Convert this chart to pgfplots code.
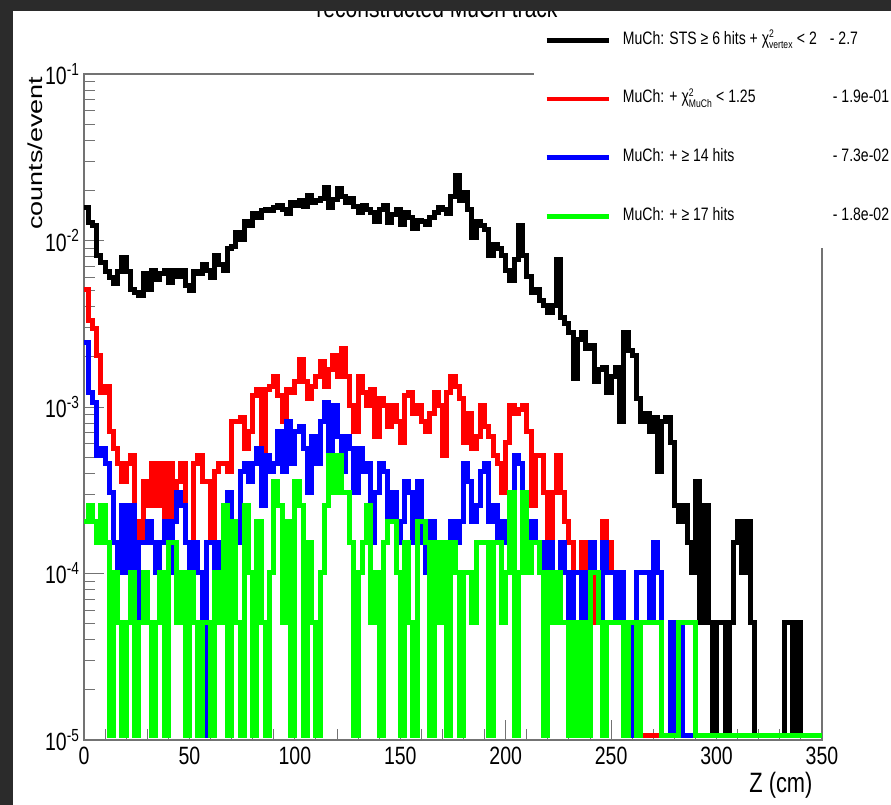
\documentclass[border=0pt]{standalone}
\usepackage{fontspec}
\setmainfont{Liberation Sans}[FakeStretch=0.78]
\newfontfamily\ylfont{Liberation Sans}
\usepackage{graphicx}
\usepackage{pgfplots}
\usepackage{pgfplotstable}
\pgfplotsset{compat=1.18}
\definecolor{rootred}{RGB}{255,0,0}
\definecolor{rootblue}{RGB}{0,0,255}
\definecolor{rootgreen}{RGB}{0,255,0}
\definecolor{darkbg}{RGB}{43,43,43}
\newcommand{\ssub}[1]{\hbox{\fontsize{11}{11}\selectfont #1}}

% counts per 2 cm bin (1 count = 5.1e-5 counts/event)
\pgfplotstableread[row sep=\\]{
x n\\
0 309\\ 2 250\\ 4 240\\ 6 160\\ 8 145\\ 10 128\\ 12 118\\ 14 108\\ 16 128\\ 18 155\\
20 128\\ 22 100\\ 24 95\\ 26 92\\ 28 125\\ 30 100\\ 32 130\\ 34 115\\ 36 125\\ 38 130\\
40 110\\ 42 130\\ 44 120\\ 46 130\\ 48 105\\ 50 98\\ 52 128\\ 54 125\\ 56 140\\ 58 130\\
60 118\\ 62 160\\ 64 140\\ 66 130\\ 68 175\\ 70 180\\ 72 220\\ 74 200\\ 76 255\\ 78 240\\
80 285\\ 82 270\\ 84 295\\ 86 300\\ 88 295\\ 90 310\\ 92 320\\ 94 300\\ 96 285\\ 98 330\\
100 320\\ 102 340\\ 104 315\\ 106 365\\ 108 330\\ 110 340\\ 112 350\\ 114 410\\ 116 310\\ 118 345\\
120 400\\ 122 360\\ 124 330\\ 126 350\\ 128 315\\ 130 290\\ 132 320\\ 134 300\\ 136 290\\ 138 255\\
140 300\\ 142 320\\ 144 250\\ 146 280\\ 148 300\\ 150 245\\ 152 290\\ 154 270\\ 156 230\\ 158 260\\
160 255\\ 162 245\\ 164 270\\ 166 290\\ 168 310\\ 170 300\\ 172 285\\ 174 360\\ 176 480\\ 178 340\\
180 380\\ 182 300\\ 184 205\\ 186 255\\ 188 240\\ 190 228\\ 192 160\\ 194 185\\ 196 175\\ 198 160\\
200 130\\ 202 112\\ 204 150\\ 206 240\\ 208 160\\ 210 120\\ 212 96\\ 214 100\\ 216 85\\ 218 80\\
220 72\\ 222 80\\ 224 150\\ 226 68\\ 228 62\\ 230 55\\ 232 29\\ 234 50\\ 236 55\\ 238 44\\
240 46\\ 242 28\\ 244 33\\ 246 34\\ 248 24\\ 250 30\\ 252 34\\ 254 16\\ 256 55\\ 258 43\\
260 40\\ 262 22\\ 264 16\\ 266 18\\ 268 14\\ 270 17\\ 272 8\\ 274 16\\ 276 17\\ 278 12\\
280 5\\ 282 4\\ 284 5\\ 286 3\\ 288 2\\ 290 7\\ 292 1\\ 294 5\\ 296 1\\ 298 0\\
300 1\\ 302 1\\ 304 0\\ 306 1\\ 308 3\\ 310 4\\ 312 2\\ 314 4\\ 316 1\\ 318 0\\
320 0\\ 322 0\\ 324 0\\ 326 0\\ 328 0\\ 330 0\\ 332 1\\ 334 1\\ 336 0\\ 338 1\\
340 0\\ 342 0\\ 344 0\\ 346 0\\ 348 0\\ 350 0\\
}\blackdata

\pgfplotstableread[row sep=\\]{
x n\\
0 100\\ 2 65\\ 4 58\\ 6 40\\ 8 24\\ 10 26\\ 12 14\\ 14 11\\ 16 9\\ 18 7\\
20 9\\ 22 10\\ 24 4\\ 26 3\\ 28 7\\ 30 5\\ 32 9\\ 34 5\\ 36 9\\ 38 4\\
40 9\\ 42 4\\ 44 7\\ 46 9\\ 48 3\\ 50 2\\ 52 9\\ 54 10\\ 56 7\\ 58 7\\
60 3\\ 62 8\\ 64 9\\ 66 9\\ 68 8\\ 70 16\\ 72 16\\ 74 17\\ 76 11\\ 78 14\\
80 23\\ 82 25\\ 84 10\\ 86 25\\ 88 26\\ 90 30\\ 92 23\\ 94 16\\ 96 25\\ 98 24\\
100 28\\ 102 38\\ 104 28\\ 106 22\\ 108 26\\ 110 30\\ 112 37\\ 114 26\\ 116 33\\ 118 40\\
120 30\\ 122 44\\ 124 30\\ 126 20\\ 128 14\\ 130 30\\ 132 24\\ 134 20\\ 136 25\\ 138 13\\
140 22\\ 142 20\\ 144 15\\ 146 20\\ 148 16\\ 150 12\\ 152 23\\ 154 24\\ 156 18\\ 158 20\\
160 16\\ 162 14\\ 164 18\\ 166 24\\ 168 20\\ 170 10\\ 172 24\\ 174 30\\ 176 26\\ 178 22\\
180 12\\ 182 18\\ 184 11\\ 186 13\\ 188 20\\ 190 15\\ 192 13\\ 194 10\\ 196 9\\ 198 6\\
200 12\\ 202 20\\ 204 18\\ 206 19\\ 208 20\\ 210 14\\ 212 5\\ 214 10\\ 216 10\\ 218 6\\
220 2\\ 222 6\\ 224 10\\ 226 6\\ 228 4\\ 230 3\\ 232 2\\ 234 2\\ 236 3\\ 238 2\\
240 2\\ 242 1\\ 244 2\\ 246 4\\ 248 3\\ 250 2\\ 252 2\\ 254 2\\ 256 0\\ 258 0\\
260 0\\ 270 0\\ 280 0\\ 290 0\\ 300 0\\ 310 0\\ 320 0\\ 330 0\\ 340 0\\ 350 0\\
}\reddata

\pgfplotstableread[row sep=\\]{
x n\\
0 48\\ 2 24\\ 4 21\\ 6 10\\ 8 11\\ 10 9\\ 12 6\\ 14 3\\ 16 2\\ 18 5\\
20 2\\ 22 5\\ 24 0\\ 26 3\\ 28 3\\ 30 4\\ 32 3\\ 34 2\\ 36 3\\ 38 4\\
40 2\\ 42 4\\ 44 6\\ 46 5\\ 48 3\\ 50 2\\ 52 3\\ 54 2\\ 56 0\\ 58 3\\
60 3\\ 62 2\\ 64 3\\ 66 4\\ 68 6\\ 70 4\\ 72 3\\ 74 8\\ 76 9\\ 78 7\\
80 9\\ 82 11\\ 84 5\\ 86 10\\ 88 8\\ 90 9\\ 92 14\\ 94 8\\ 96 16\\ 98 9\\
100 14\\ 102 15\\ 104 11\\ 106 6\\ 108 13\\ 110 9\\ 112 16\\ 114 21\\ 116 7\\ 118 20\\
120 13\\ 122 8\\ 124 13\\ 126 11\\ 128 6\\ 130 11\\ 132 8\\ 134 9\\ 136 3\\ 138 6\\
140 9\\ 142 8\\ 144 4\\ 146 6\\ 148 3\\ 150 4\\ 152 7\\ 154 6\\ 156 3\\ 158 7\\
160 3\\ 162 2\\ 164 4\\ 166 2\\ 168 3\\ 170 3\\ 172 2\\ 174 4\\ 176 3\\ 178 4\\
180 9\\ 182 7\\ 184 4\\ 186 5\\ 188 8\\ 190 9\\ 192 4\\ 194 5\\ 196 3\\ 198 4\\
200 3\\ 202 2\\ 204 10\\ 206 9\\ 208 5\\ 210 3\\ 212 4\\ 214 3\\ 216 3\\ 218 0\\
220 3\\ 222 2\\ 224 1\\ 226 3\\ 228 2\\ 230 1\\ 232 2\\ 234 2\\ 236 1\\ 238 2\\
240 3\\ 242 2\\ 244 1\\ 246 3\\ 248 2\\ 250 2\\ 252 1\\ 254 2\\ 256 1\\ 258 0\\
260 1\\ 262 2\\ 264 2\\ 266 2\\ 268 1\\ 270 3\\ 272 2\\ 274 0\\ 276 0\\ 278 1\\
280 0\\ 282 1\\ 284 0\\ 290 0\\ 300 0\\ 310 0\\ 320 0\\ 330 0\\ 340 0\\ 350 0\\
}\bluedata

\pgfplotstableread[row sep=\\]{
x n\\
0 4\\ 2 5\\ 4 4\\ 6 3\\ 8 5\\ 10 3\\ 12 0\\ 14 2\\ 16 1\\ 18 0\\
20 1\\ 22 2\\ 24 0\\ 26 1\\ 28 2\\ 30 1\\ 32 0\\ 34 1\\ 36 2\\ 38 0\\
40 3\\ 42 3\\ 44 1\\ 46 2\\ 48 0\\ 50 2\\ 52 1\\ 54 0\\ 56 1\\ 58 1\\
60 0\\ 62 2\\ 64 1\\ 66 5\\ 68 0\\ 70 4\\ 72 1\\ 74 0\\ 76 5\\ 78 2\\
80 0\\ 82 4\\ 84 1\\ 86 0\\ 88 2\\ 90 7\\ 92 5\\ 94 1\\ 96 4\\ 98 0\\
100 7\\ 102 5\\ 104 0\\ 106 3\\ 108 1\\ 110 0\\ 112 2\\ 114 5\\ 116 10\\ 118 6\\
120 10\\ 122 6\\ 124 6\\ 126 3\\ 128 0\\ 130 2\\ 132 3\\ 134 5\\ 136 1\\ 138 2\\
140 0\\ 142 3\\ 144 4\\ 146 4\\ 148 2\\ 150 0\\ 152 3\\ 154 1\\ 156 0\\ 158 4\\
160 4\\ 162 3\\ 164 0\\ 166 3\\ 168 1\\ 170 3\\ 172 0\\ 174 3\\ 176 2\\ 178 0\\
180 2\\ 182 2\\ 184 1\\ 186 3\\ 188 3\\ 190 3\\ 192 0\\ 194 3\\ 196 3\\ 198 1\\
200 2\\ 202 6\\ 204 0\\ 206 2\\ 208 6\\ 210 2\\ 212 3\\ 214 3\\ 216 2\\ 218 0\\
220 2\\ 222 1\\ 224 2\\ 226 1\\ 228 1\\ 230 0\\ 232 1\\ 234 0\\ 236 1\\ 238 0\\
240 2\\ 242 2\\ 244 1\\ 246 0\\ 248 1\\ 250 1\\ 252 1\\ 254 1\\ 256 0\\ 258 1\\
260 1\\ 262 0\\ 264 1\\ 266 1\\ 268 1\\ 270 1\\ 272 1\\ 274 0\\ 276 0\\ 278 0\\
280 0\\ 282 1\\ 284 1\\ 286 1\\ 288 1\\ 290 0\\ 300 0\\ 320 0\\ 340 0\\ 350 0\\
}\greendata

\begin{document}
\begin{tikzpicture}[x=1pt,y=1pt]
\begin{axis}[
  at={(84pt,65pt)}, anchor=south west,
  scale only axis, width=738pt, height=666pt,
  xmin=0, xmax=350, ymin=1e-5, ymax=1e-1, ymode=log,
  xtick={0,50,100,150,200,250,300,350},
  xticklabels={0,50,100,150,200,250,300,350},
  minor xtick={10,20,30,40,60,70,80,90,110,120,130,140,160,170,180,190,210,220,230,240,260,270,280,290,310,320,330,340},
  ytick={1e-5,1e-4,1e-3,1e-2,1e-1},
  yticklabels={10\textsuperscript{-5},10\textsuperscript{-4},10\textsuperscript{-3},10\textsuperscript{-2},10\textsuperscript{-1}},
  minor ytick={2e-5,3e-5,4e-5,5e-5,6e-5,7e-5,8e-5,9e-5,2e-4,3e-4,4e-4,5e-4,6e-4,7e-4,8e-4,9e-4,2e-3,3e-3,4e-3,5e-3,6e-3,7e-3,8e-3,9e-3,2e-2,3e-2,4e-2,5e-2,6e-2,7e-2,8e-2,9e-2},
  tick align=inside, xtick pos=bottom, ytick pos=left,
  major tick length=20pt, minor tick length=11pt,
  tick style={black!55, line width=1pt},
  axis line style={black!55, line width=1.2pt},
  ticklabel style={font=\fontsize{25}{27}\selectfont},
  xticklabel style={yshift=-4pt},
  yticklabel style={xshift=-1pt},
  legend style={at={(0.610,1.099)}, anchor=north west, draw=none, fill=white,
    inner xsep=10pt, inner ysep=23pt, row sep=40.7pt,
    font=\fontsize{18}{20}\selectfont,
    nodes={inner sep=0pt, text height=13pt, text depth=5pt},
    /tikz/every odd column/.append style={column sep=12pt}},
  legend cell align=left,
  legend image code/.code={\draw[#1, line width=4.5pt] (0pt,0pt) -- (62pt,0pt);},
]
\addplot[black, line width=5pt, const plot] table[x=x, y expr={max(\thisrow{n},0.21)*5.1e-5}] {\blackdata};
\addlegendentry{\makebox[207pt][l]{MuCh: STS ≥ 6 hits + $\hbox{χ}^{\ssub{2}}_{\ssub{vertex}}$ < 2}- 2.7}
\addplot[rootred, line width=5pt, const plot] table[x=x, y expr={max(\thisrow{n},0.21)*5.1e-5}] {\reddata};
\addlegendentry{\makebox[210pt][l]{MuCh: + $\hbox{χ}^{\ssub{2}}_{\ssub{MuCh}}$ < 1.25}- 1.9e-01}
\addplot[rootblue, line width=5pt, const plot] table[x=x, y expr={max(\thisrow{n},0.21)*5.1e-5}] {\bluedata};
\addlegendentry{\makebox[210pt][l]{MuCh: + ≥ 14 hits}- 7.3e-02}
\addplot[rootgreen, line width=5pt, const plot] table[x=x, y expr={max(\thisrow{n},0.21)*5.1e-5}] {\greendata};
\addlegendentry{\makebox[210pt][l]{MuCh: + ≥ 17 hits}- 1.8e-02}
\end{axis}
\node[anchor=base, font=\fontsize{27}{30}\selectfont] at (437,787) {reconstructed MuCh track};
\node[rotate=90, anchor=east, font=\ylfont\fontsize{27}{30}\selectfont] at (35,732) {\scalebox{1}[0.75]{counts/event}};
\node[anchor=base east, font=\fontsize{28}{30}\selectfont] at (816,12) {Z (cm)};
\fill[darkbg] (0,0) rectangle (13,805);
\fill[darkbg] (0,794) rectangle (891,805);
\pgfresetboundingbox
\useasboundingbox (0,0) rectangle (891,805);
\end{tikzpicture}
\end{document}
